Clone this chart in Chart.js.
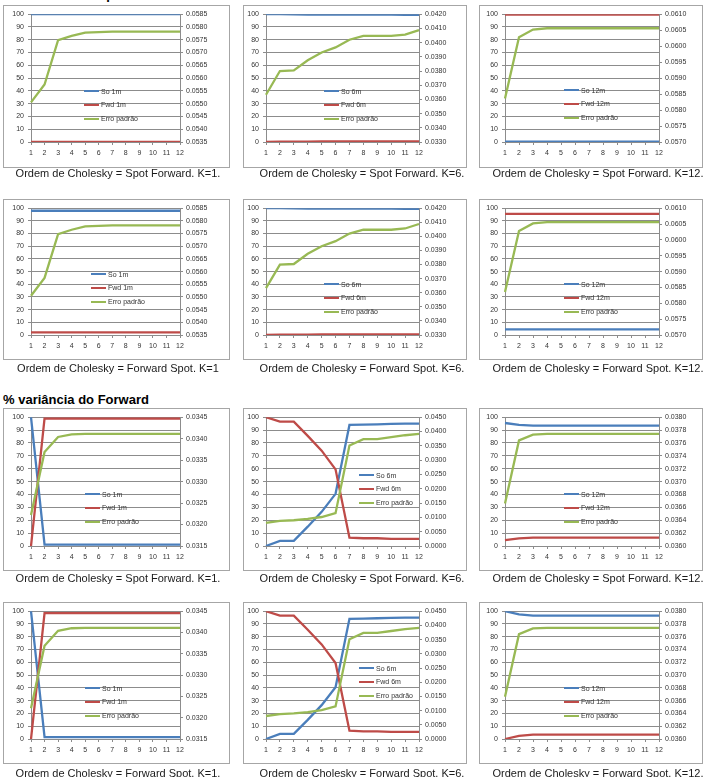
<!DOCTYPE html>
<html>
<head>
<meta charset="utf-8">
<script src="https://cdn.jsdelivr.net/npm/chart.js@4.4.1/dist/chart.umd.min.js"></script>
<style>
  body { margin:0; background:#fff; width:711px; height:777px; overflow:hidden; position:relative; font-family:"Liberation Sans", Arial, sans-serif; }
  .sec { position:absolute; left:3px; font-weight:bold; font-size:13px; line-height:15px; color:#000; white-space:nowrap; }
  .box { position:absolute; box-sizing:border-box; border:1px solid #a6a6a6; background:#fff; }
  .box canvas { position:absolute; left:0; top:0; }
  .cap { position:absolute; font-size:11px; line-height:13px; color:#1a1a1a; white-space:nowrap; transform:translate(-50%,-50%); }
  .leg { position:absolute; font-size:7px; color:#333; }
  .leg div { position:relative; height:13.8px; white-space:nowrap; }
  .leg span.l { position:absolute; left:0; top:-1px; width:15px; height:2px; }
  .leg span.t { position:absolute; left:17px; top:-4.5px; line-height:9px; }
</style>
</head>
<body>
<div class="sec" style="top:-13px">% variância do Spot</div>
<div class="sec" style="top:392px">% variância do Forward</div>

<script>
const xLabels = ['1','2','3','4','5','6','7','8','9','10','11','12'];

// right axis (Erro padrão): [min, max, step]
const axSpotK1 = [0.0535, 0.0585, 0.0005];
const axSpotK6 = [0.0330, 0.0420, 0.0010];
const axSpotK12 = [0.0570, 0.0610, 0.0005];
const axFwdK1 = [0.0315, 0.0345, 0.0005];
const axFwdK6 = [0.0000, 0.0450, 0.0050];
const axFwdK12 = [0.0360, 0.0380, 0.0002];

// % variância do Spot
const errSpotK1 = [0.05505, 0.05575, 0.05748, 0.05765, 0.05778, 0.05780, 0.05782, 0.05782, 0.05782, 0.05782, 0.05782, 0.05782];
const errSpotK6 = [0.03633, 0.03800, 0.03804, 0.03876, 0.03930, 0.03966, 0.04020, 0.04047, 0.04047, 0.04047, 0.04056, 0.04088];
const errSpotK12 = [0.05836, 0.06028, 0.06052, 0.06056, 0.06056, 0.06056, 0.06056, 0.06056, 0.06056, 0.06056, 0.06056, 0.06056];

const spotSF_K1_so  = [100, 100, 100, 100, 100, 100, 100, 100, 100, 100, 100, 100];
const spotSF_K1_fwd = [0, 0, 0, 0, 0, 0, 0, 0, 0, 0, 0, 0];
const spotSF_K6_so  = [100, 100, 99.8, 99.7, 99.7, 99.6, 99.6, 99.6, 99.6, 99.6, 99.5, 99.5];
const spotSF_K6_fwd = [0, 0.2, 0.3, 0.3, 0.4, 0.4, 0.4, 0.4, 0.4, 0.5, 0.5, 0.5];
const spotSF_K12_so  = [0.3, 0.3, 0.3, 0.3, 0.3, 0.3, 0.3, 0.3, 0.3, 0.3, 0.3, 0.3];
const spotSF_K12_fwd = [99.7, 99.7, 99.7, 99.7, 99.7, 99.7, 99.7, 99.7, 99.7, 99.7, 99.7, 99.7];

const spotFS_K1_so  = [98, 98, 98, 98, 98, 98, 98, 98, 98, 98, 98, 98];
const spotFS_K1_fwd = [2, 2, 2, 2, 2, 2, 2, 2, 2, 2, 2, 2];
const spotFS_K6_so  = [100, 100, 99.8, 99.7, 99.7, 99.6, 99.6, 99.6, 99.6, 99.6, 99.5, 99.5];
const spotFS_K6_fwd = [0, 0.2, 0.3, 0.3, 0.4, 0.4, 0.4, 0.4, 0.4, 0.5, 0.5, 0.5];
const spotFS_K12_so  = [4.5, 4.5, 4.5, 4.5, 4.5, 4.5, 4.5, 4.5, 4.5, 4.5, 4.5, 4.5];
const spotFS_K12_fwd = [95.5, 95.5, 95.5, 95.5, 95.5, 95.5, 95.5, 95.5, 95.5, 95.5, 95.5, 95.5];

// % variância do Forward
const errFwdK1 = [0.03222, 0.03369, 0.03404, 0.03410, 0.03411, 0.03411, 0.03411, 0.03411, 0.03411, 0.03411, 0.03411, 0.03411];
const errFwdK6 = [0.00810, 0.00878, 0.00900, 0.00945, 0.01013, 0.01148, 0.03510, 0.03735, 0.03735, 0.03803, 0.03870, 0.03915];
const errFwdK12 = [0.03666, 0.03764, 0.03773, 0.03774, 0.03774, 0.03774, 0.03774, 0.03774, 0.03774, 0.03774, 0.03774, 0.03774];

const fwdSF_K1_so  = [100, 1, 1, 1, 1, 1, 1, 1, 1, 1, 1, 1];
const fwdSF_K1_fwd = [0, 99, 99, 99, 99, 99, 99, 99, 99, 99, 99, 99];
const fwdSF_K6_so  = [0, 4, 4, 15, 26.5, 40.5, 94, 94.2, 94.5, 94.8, 95, 95];
const fwdSF_K6_fwd = [100, 96.5, 96.5, 85.5, 74, 59.5, 6.5, 6, 6, 5.5, 5.5, 5.5];
const fwdSF_K12_so  = [95.5, 94, 93.5, 93.5, 93.5, 93.5, 93.5, 93.5, 93.5, 93.5, 93.5, 93.5];
const fwdSF_K12_fwd = [4.5, 6, 6.5, 6.5, 6.5, 6.5, 6.5, 6.5, 6.5, 6.5, 6.5, 6.5];

const fwdFS_K1_so  = [100, 1.5, 1.5, 1.5, 1.5, 1.5, 1.5, 1.5, 1.5, 1.5, 1.5, 1.5];
const fwdFS_K1_fwd = [0, 98.5, 98.5, 98.5, 98.5, 98.5, 98.5, 98.5, 98.5, 98.5, 98.5, 98.5];
const fwdFS_K6_so  = [0, 4, 4, 15, 26.5, 40.5, 94, 94.2, 94.5, 94.8, 95, 95];
const fwdFS_K6_fwd = [100, 96.5, 96.5, 85.5, 74, 59.5, 6.5, 6, 6, 5.5, 5.5, 5.5];
const fwdFS_K12_so  = [100, 97.5, 96.5, 96.5, 96.5, 96.5, 96.5, 96.5, 96.5, 96.5, 96.5, 96.5];
const fwdFS_K12_fwd = [0, 2.5, 3.5, 3.5, 3.5, 3.5, 3.5, 3.5, 3.5, 3.5, 3.5, 3.5];

const captions = [
  'Ordem de Cholesky = Spot Forward. K=1.', 'Ordem de Cholesky = Spot Forward. K=6.', 'Ordem de Cholesky = Spot Forward. K=12.',
  'Ordem de Cholesky = Forward Spot. K=1', 'Ordem de Cholesky = Forward Spot. K=6.', 'Ordem de Cholesky = Forward Spot. K=12.',
  'Ordem de Cholesky = Spot Forward. K=1.', 'Ordem de Cholesky = Spot Forward. K=6.', 'Ordem de Cholesky = Spot Forward. K=12.',
  'Ordem de Cholesky = Forward Spot. K=1.', 'Ordem de Cholesky = Forward Spot. K=6.', 'Ordem de Cholesky = Forward Spot. K=12.'
];

const panels = [
  [spotSF_K1_so, spotSF_K1_fwd, errSpotK1, axSpotK1, '1m'],
  [spotSF_K6_so, spotSF_K6_fwd, errSpotK6, axSpotK6, '6m'],
  [spotSF_K12_so, spotSF_K12_fwd, errSpotK12, axSpotK12, '12m'],
  [spotFS_K1_so, spotFS_K1_fwd, errSpotK1, axSpotK1, '1m'],
  [spotFS_K6_so, spotFS_K6_fwd, errSpotK6, axSpotK6, '6m'],
  [spotFS_K12_so, spotFS_K12_fwd, errSpotK12, axSpotK12, '12m'],
  [fwdSF_K1_so, fwdSF_K1_fwd, errFwdK1, axFwdK1, '1m'],
  [fwdSF_K6_so, fwdSF_K6_fwd, errFwdK6, axFwdK6, '6m'],
  [fwdSF_K12_so, fwdSF_K12_fwd, errFwdK12, axFwdK12, '12m'],
  [fwdFS_K1_so, fwdFS_K1_fwd, errFwdK1, axFwdK1, '1m'],
  [fwdFS_K6_so, fwdFS_K6_fwd, errFwdK6, axFwdK6, '6m'],
  [fwdFS_K12_so, fwdFS_K12_fwd, errFwdK12, axFwdK12, '12m']
];

// layout (page pixels)
const rows = [ // box top, box height, plot top, plot bottom, caption y
  [5, 163, 13, 142, 173],
  [199, 161, 206, 335, 368],
  [408, 163, 417, 546, 578],
  [602, 162, 610, 739, 773]
];
const cols = [ // box left, box width, plot left, plot right, caption x
  [3, 227, 31, 180, 118],
  [243, 224, 266, 419, 362],
  [479, 224, 505, 659, 598]
];
const legendPos = [
  [80, 85], [80, 85], [84, 84],
  [87, 74], [80, 84], [84, 84],
  [81, 85], [115, 66], [84, 85],
  [81, 85], [115, 65], [84, 85]
];

const BLUE = '#4a7ebb', RED = '#be4b48', GREEN = '#98b954';
const GRID = '#8c8c8c';
const tickFont = { family: 'Liberation Sans', size: 7 };

panels.forEach((p, i) => {
  const [boxTop, boxH, plotTop, plotBot, capY] = rows[Math.floor(i / 3)];
  const [boxLeft, boxW, plotLeft, plotRight, capX] = cols[i % 3];
  const [so, fwd, err, ax, tag] = p;

  const box = document.createElement('div');
  box.className = 'box';
  box.style.left = boxLeft + 'px';
  box.style.top = boxTop + 'px';
  box.style.width = boxW + 'px';
  box.style.height = boxH + 'px';
  document.body.appendChild(box);

  const cv = document.createElement('canvas');
  cv.width = boxW - 2;
  cv.height = boxH - 2;
  box.appendChild(cv);

  const leftW = plotLeft - boxLeft - 1;
  const rightW = boxLeft + boxW - 1 - plotRight;
  const xH = boxTop + boxH - 1 - plotBot;
  const padTop = plotTop - boxTop - 1;

  const datasets = [
    { label: 'So ' + tag, data: so, borderColor: BLUE, yAxisID: 'y', order: 2 },
    { label: 'Fwd ' + tag, data: fwd, borderColor: RED, yAxisID: 'y', order: 1 },
    { label: 'Erro padrão', data: err, borderColor: GREEN, yAxisID: 'y1', order: 0 }
  ];

  new Chart(cv, {
    type: 'line',
    data: { labels: xLabels, datasets: datasets },
    options: {
      responsive: false,
      animation: false,
      devicePixelRatio: 1,
      layout: { padding: { top: padTop, left: 0, right: 0, bottom: 0 } },
      elements: { point: { radius: 0 }, line: { borderWidth: 2.3, tension: 0 } },
      plugins: { legend: { display: false }, tooltip: { enabled: false } },
      scales: {
        x: {
          offset: false,
          grid: { drawOnChartArea: false, color: GRID, tickLength: 3 },
          border: { color: GRID },
          ticks: { font: tickFont, color: '#333', padding: 4, maxRotation: 0, autoSkip: false },
          afterFit: s => { s.height = xH; }
        },
        y: {
          min: 0, max: 100,
          grid: { color: GRID, tickLength: 3 },
          border: { color: GRID },
          ticks: { stepSize: 10, font: tickFont, color: '#333', padding: 4, autoSkip: false },
          afterFit: s => { s.width = leftW; }
        },
        y1: {
          position: 'right',
          min: ax[0], max: ax[1],
          grid: { drawOnChartArea: false, color: GRID, tickLength: 3 },
          border: { color: GRID },
          ticks: { stepSize: ax[2], font: tickFont, color: '#333', padding: 3, autoSkip: false,
                   callback: v => Number(v).toFixed(4) },
          afterFit: s => { s.width = rightW; }
        }
      }
    }
  });

  // legend inside the plot, like the spreadsheet
  const leg = document.createElement('div');
  leg.className = 'leg';
  leg.style.left = legendPos[i][0] + 'px';
  leg.style.top = legendPos[i][1] + 'px';
  datasets.forEach(d => {
    const row = document.createElement('div');
    const l = document.createElement('span');
    l.className = 'l';
    l.style.background = d.borderColor;
    const t = document.createElement('span');
    t.className = 't';
    t.textContent = d.label;
    row.appendChild(l);
    row.appendChild(t);
    leg.appendChild(row);
  });
  box.appendChild(leg);

  const cap = document.createElement('div');
  cap.className = 'cap';
  cap.style.left = capX + 'px';
  cap.style.top = capY + 'px';
  cap.textContent = captions[i];
  document.body.appendChild(cap);
});
</script>
</body>
</html>
